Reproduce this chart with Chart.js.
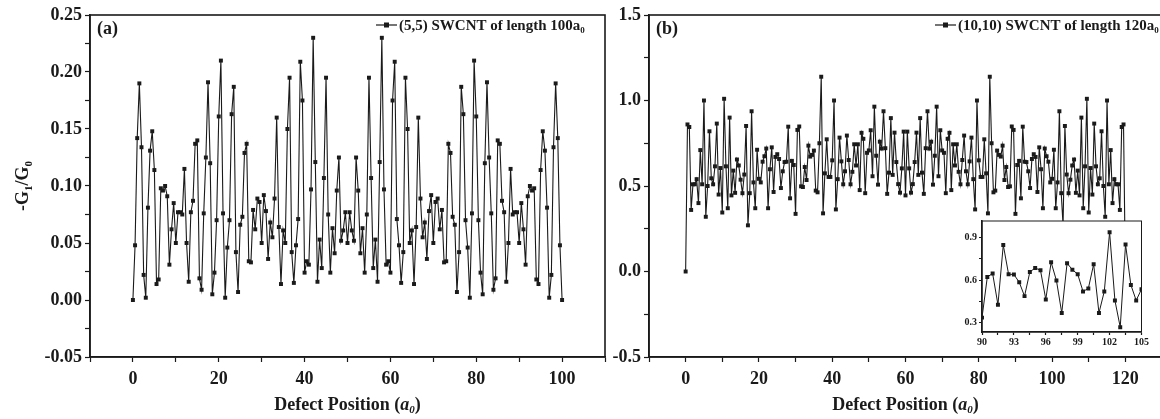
<!DOCTYPE html>
<html>
<head>
<meta charset="utf-8">
<script src="https://cdn.jsdelivr.net/npm/chart.js@4.4.0/dist/chart.umd.min.js"></script>
<style>
  html, body { margin: 0; padding: 0; background: #fff; overflow: hidden; width: 1160px; height: 419px; }
  canvas { position: absolute; }
  #chartA { left: 0; top: 0; }
  #chartB { left: 560px; top: 0; }
  #chartInset { left: 950px; top: 212px; }
</style>
</head>
<body>
<canvas id="chartA" width="620" height="419"></canvas>
<canvas id="chartB" width="620" height="419"></canvas>
<canvas id="chartInset" width="200" height="140"></canvas>
<script>
// (a) -G1/G0 of the (5,5) tube, defect position 0..100 in steps of 0.5
const valuesA = [
  0.000,0.048,0.142,0.190,0.134,0.022,0.002,0.081,0.131,0.148,
  0.114,0.014,0.018,0.098,0.096,0.100,0.091,0.031,0.062,0.085,
  0.050,0.077,0.077,0.075,0.115,0.050,0.016,0.077,0.087,0.137,
  0.140,0.019,0.009,0.076,0.125,0.191,0.120,0.005,0.024,0.070,
  0.161,0.210,0.076,0.002,0.046,0.070,0.163,0.187,0.042,0.007,
  0.066,0.073,0.129,0.137,0.034,0.033,0.079,0.062,0.089,0.086,
  0.050,0.092,0.078,0.036,0.068,0.055,0.089,0.160,0.064,0.014,
  0.061,0.050,0.150,0.195,0.042,0.015,0.048,0.071,0.209,0.175,
  0.024,0.034,0.031,0.097,0.230,0.121,0.016,0.053,0.028,0.107,
  0.195,0.075,0.024,0.063,0.041,0.096,0.125,0.052,0.061,0.077,
  0.050,
  0.077,0.061,0.052,0.125,0.096,0.041,0.063,0.024,0.075,0.195,
  0.107,0.028,0.053,0.016,0.121,0.230,0.097,0.031,0.034,0.024,
  0.175,0.209,0.071,0.048,0.015,0.042,0.195,0.150,0.050,0.061,
  0.014,0.064,0.160,0.089,0.055,0.068,0.036,0.078,0.092,0.050,
  0.086,0.089,0.062,0.079,0.033,0.034,0.137,0.129,0.073,0.066,
  0.007,0.042,0.187,0.163,0.070,0.046,0.002,0.076,0.210,0.161,
  0.070,0.024,0.005,0.120,0.191,0.125,0.076,0.009,0.019,0.140,
  0.137,0.087,0.077,0.016,0.050,0.115,0.075,0.077,0.077,0.050,
  0.085,0.062,0.031,0.091,0.100,0.096,0.098,0.018,0.014,0.114,
  0.148,0.131,0.081,0.002,0.022,0.134,0.190,0.142,0.048,0.000
];

// (b) -G1/G0 of the (10,10) tube, defect position 0..120 in steps of 0.5
const valuesB = [
  0.000,0.860,0.845,0.360,0.510,0.510,0.540,0.400,0.710,0.510,
  1.000,0.320,0.500,0.820,0.545,0.510,0.615,0.865,0.450,0.605,
  0.345,1.010,0.615,0.370,0.900,0.445,0.590,0.460,0.655,0.620,
  0.537,0.458,0.567,0.851,0.270,0.458,0.937,0.521,0.370,0.712,
  0.542,0.521,0.642,0.674,0.719,0.370,0.598,0.726,0.465,0.670,
  0.686,0.658,0.488,0.586,0.640,0.642,0.847,0.428,0.647,0.623,
  0.337,0.828,0.848,0.498,0.494,0.611,0.535,0.736,0.672,0.682,
  0.707,0.473,0.463,0.750,1.139,0.340,0.574,0.773,0.553,0.553,
  0.650,1.000,0.363,0.540,0.783,0.644,0.510,0.586,0.795,0.652,
  0.510,0.583,0.744,0.620,0.744,0.476,0.811,0.776,0.458,0.694,
  0.708,0.826,0.557,0.964,0.677,0.508,0.759,0.719,0.937,0.721,
  0.454,0.578,0.897,0.565,0.812,0.640,0.511,0.461,0.603,0.818,
  0.445,
  0.818,0.603,0.461,0.511,0.640,0.812,0.565,0.897,0.578,0.454,
  0.721,0.937,0.719,0.759,0.508,0.677,0.964,0.557,0.826,0.708,
  0.694,0.458,0.776,0.811,0.476,0.744,0.620,0.744,0.583,0.510,
  0.652,0.795,0.586,0.510,0.644,0.783,0.540,0.363,1.000,0.650,
  0.553,0.553,0.773,0.574,0.340,1.139,0.750,0.463,0.473,0.707,
  0.682,0.672,0.736,0.535,0.611,0.494,0.498,0.848,0.828,0.337,
  0.623,0.647,0.428,0.847,0.642,0.640,0.586,0.488,0.658,0.686,
  0.670,0.465,0.726,0.598,0.370,0.719,0.674,0.642,0.521,0.542,
  0.712,0.370,0.521,0.937,0.458,0.270,0.851,0.567,0.458,0.537,
  0.620,0.655,0.460,0.590,0.445,0.900,0.370,0.615,1.010,0.345,
  0.605,0.450,0.865,0.615,0.510,0.545,0.820,0.500,0.320,1.000,
  0.510,0.710,0.400,0.540,0.510,0.510,0.360,0.845,0.860,0.000
];

// defect positions (a0)
const positionsA = valuesA.map((v, i) => i * 0.5);
const positionsB = valuesB.map((v, i) => i * 0.5);

// inset = zoom on 90..105 of panel (b)
const insetPositions = positionsB.slice(180, 211);
const insetValues = valuesB.slice(180, 211);

// ticks
const xTicksA = [0, 20, 40, 60, 80, 100];
const xMinorA = [-10, 10, 30, 50, 70, 90, 110];
const yTicksA = [-0.05, 0, 0.05, 0.10, 0.15, 0.20, 0.25];
const yMinorA = [-0.025, 0.025, 0.075, 0.125, 0.175, 0.225];
const xTicksB = [0, 20, 40, 60, 80, 100, 120];
const xMinorB = [-10, 10, 30, 50, 70, 90, 110, 130];
const yTicksB = [-0.5, 0, 0.5, 1.0, 1.5];
const yMinorB = [-0.25, 0.25, 0.75, 1.25];
const xTicksInset = [90, 93, 96, 99, 102, 105];
const xMinorInset = [91.5, 94.5, 97.5, 100.5, 103.5];
const yTicksInset = [0.3, 0.6, 0.9];
const yMinorInset = [0.45, 0.75];

const legendA = '(5,5) SWCNT of length 100a';
const legendB = '(10,10) SWCNT of length 120a';

const FONT = "'Liberation Serif', 'Times New Roman', serif";
const ink = '#1a1a1a';

function toXY(xs, ys) {
  return ys.map((y, i) => ({ x: xs[i], y: y }));
}

// draws a row of text pieces (for subscripts / italic parts)
function drawRuns(ctx, runs, x, y, align) {
  let total = 0;
  runs.forEach(r => { ctx.font = r.font; r.w = ctx.measureText(r.text).width; total += r.w; });
  let cx = align === 'center' ? x - total / 2 : x;
  ctx.textAlign = 'left';
  ctx.textBaseline = 'alphabetic';
  runs.forEach(r => { ctx.font = r.font; ctx.fillText(r.text, cx, y + (r.dy || 0)); cx += r.w; });
}

const bold = s => 'bold ' + s + 'px ' + FONT;
const boldItalic = s => 'italic bold ' + s + 'px ' + FONT;

const decorPlugin = {
  id: 'decor',
  beforeDraw(chart, args, opts) {
    if (!opts.fill) return;
    const { ctx, chartArea: a } = chart;
    ctx.save();
    ctx.fillStyle = '#fff';
    ctx.fillRect(a.left, a.top, a.right - a.left, a.bottom - a.top);
    ctx.restore();
  },
  afterDraw(chart, args, opts) {
    const { ctx, chartArea: a } = chart;
    ctx.save();
    ctx.strokeStyle = ink;
    ctx.lineWidth = opts.frameWidth || 1.6;
    ctx.strokeRect(a.left, a.top, a.right - a.left, a.bottom - a.top);
    ctx.fillStyle = ink;

    if (opts.panel) {
      drawRuns(ctx, [{ text: opts.panel, font: bold(18) }], a.left + 7, a.top + 19);
    }
    if (opts.legend) {
      const lx = a.left + 286, ly = a.top + 10;
      ctx.lineWidth = 1.2;
      ctx.beginPath();
      ctx.moveTo(lx, ly);
      ctx.lineTo(lx + 21, ly);
      ctx.stroke();
      ctx.fillRect(lx + 8, ly - 2.5, 5, 5);
      drawRuns(ctx, [
        { text: opts.legend, font: bold(15) },
        { text: '0', font: bold(9), dy: 3 }
      ], lx + 23, ly + 5);
    }
    if (opts.xTitle) {
      drawRuns(ctx, [
        { text: 'Defect Position (', font: bold(18) },
        { text: 'a', font: boldItalic(18) },
        { text: '0', font: boldItalic(11), dy: 3 },
        { text: ')', font: bold(18) }
      ], (a.left + a.right) / 2, 410, 'center');
    }
    if (opts.yTitle) {
      ctx.translate(22, (a.top + a.bottom) / 2);
      ctx.rotate(-Math.PI / 2);
      drawRuns(ctx, [
        { text: '-G', font: bold(18) },
        { text: '1', font: bold(11), dy: 4 },
        { text: '/G', font: bold(18) },
        { text: '0', font: bold(11), dy: 4 }
      ], 0, 6, 'center');
    }
    ctx.restore();
  }
};

function axis(min, max, majors, minors, fmt, fit, fontSize, tickLen, pad) {
  const all = majors.concat(minors).sort((p, q) => p - q);
  return {
    type: 'linear',
    min: min,
    max: max,
    afterBuildTicks: s => { s.ticks = all.map(v => ({ value: v })); },
    afterFit: fit,
    ticks: {
      autoSkip: false,
      maxRotation: 0,
      padding: pad,
      color: ink,
      font: { family: FONT, size: fontSize, weight: 'bold' },
      callback: v => majors.includes(v) ? fmt(v) : ''
    },
    grid: { drawOnChartArea: false, drawTicks: true, tickLength: tickLen, tickWidth: 1.2, tickColor: ink },
    border: { display: true, color: ink, width: 1.6 }
  };
}

function lineSet(xs, ys, radius, width) {
  return {
    data: toXY(xs, ys),
    borderColor: ink,
    borderWidth: width,
    pointStyle: 'rect',
    pointRadius: radius,
    pointBackgroundColor: ink,
    pointBorderColor: ink,
    pointBorderWidth: 0,
    tension: 0
  };
}

// panel (a)
new Chart(document.getElementById('chartA').getContext('2d'), {
  type: 'line',
  data: { datasets: [lineSet(positionsA, valuesA, 2.8, 1.1)] },
  options: {
    responsive: false,
    animation: false,
    layout: { padding: { top: 15, right: 15, left: 0, bottom: 0 } },
    plugins: {
      legend: { display: false },
      tooltip: { enabled: false },
      decor: { panel: '(a)', legend: legendA, xTitle: true, yTitle: true }
    },
    scales: {
      x: axis(-10, 110, xTicksA, xMinorA, v => String(v), s => { s.height = 62; }, 18, 5, 7),
      y: axis(-0.05, 0.25, yTicksA, yMinorA, v => v.toFixed(2), s => { s.width = 90; }, 18, 5, 3)
    }
  },
  plugins: [decorPlugin]
});

// panel (b)
new Chart(document.getElementById('chartB').getContext('2d'), {
  type: 'line',
  data: { datasets: [lineSet(positionsB, valuesB, 2.8, 1.1)] },
  options: {
    responsive: false,
    animation: false,
    layout: { padding: { top: 15, right: 18, left: 0, bottom: 0 } },
    plugins: {
      legend: { display: false },
      tooltip: { enabled: false },
      decor: { panel: '(b)', legend: legendB, xTitle: true }
    },
    scales: {
      x: axis(-10, 130, xTicksB, xMinorB, v => String(v), s => { s.height = 62; }, 18, 5, 7),
      y: axis(-0.5, 1.5, yTicksB, yMinorB, v => v.toFixed(1), s => { s.width = 89; }, 18, 5, 3)
    }
  },
  plugins: [decorPlugin]
});

// inset of panel (b)
new Chart(document.getElementById('chartInset').getContext('2d'), {
  type: 'line',
  data: { datasets: [lineSet(insetPositions, insetValues, 2.8, 1)] },
  options: {
    responsive: false,
    animation: false,
    layout: { padding: { top: 9, right: 8, left: 0, bottom: 0 } },
    plugins: {
      legend: { display: false },
      tooltip: { enabled: false },
      decor: { fill: true, frameWidth: 1 }
    },
    scales: {
      x: axis(90, 105, xTicksInset, xMinorInset, v => String(v), s => { s.height = 20; }, 10, 3, 1),
      y: axis(0.236, 1.016, yTicksInset, yMinorInset, v => v.toFixed(1), s => { s.width = 32; }, 10, 3, 2)
    }
  },
  plugins: [decorPlugin]
});
</script>
</body>
</html>
